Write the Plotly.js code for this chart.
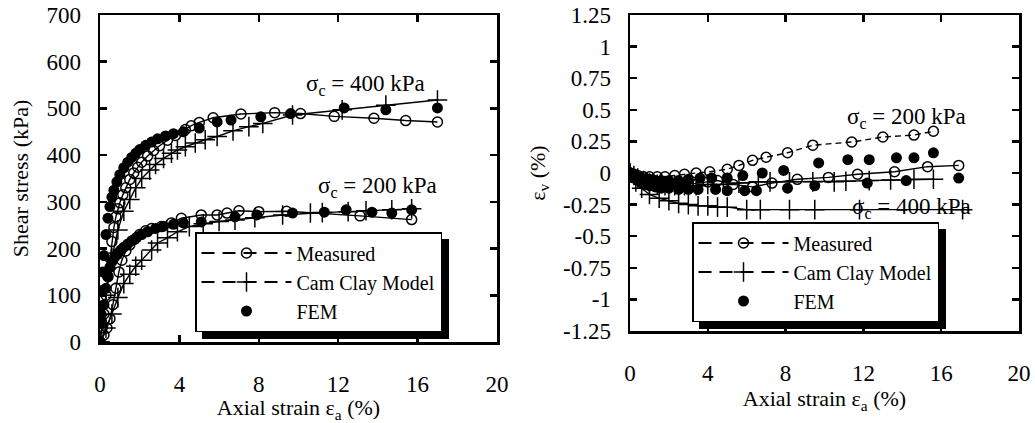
<!DOCTYPE html>
<html>
<head>
<meta charset="utf-8">
<script src="https://cdn.plot.ly/plotly-3.0.1.min.js"></script>
<style>html,body{margin:0;padding:0;background:#fff;}#chart{width:1035px;height:423px;position:relative;}</style>
</head>
<body>
<div id="chart"></div>
<script>
// ---------- Left panel: shear stress vs axial strain ----------
const epsM400 = [0, 0.1, 0.2, 0.3, 0.4, 0.5, 0.6, 0.7, 0.8, 0.9, 1.0, 1.15, 1.3, 1.5, 1.7, 1.9, 2.1, 2.4, 2.7, 3.0, 3.4, 3.8, 4.3, 4.6, 5.0, 5.7, 7.1, 8.8, 10.1, 11.8, 13.8, 15.4, 17.0];
const tauM400 = [0, 30, 60, 100, 140, 180, 215, 245, 268, 285, 298, 315, 330, 348, 362, 374, 385, 398, 410, 420, 432, 442, 455, 463, 470, 480, 488, 491, 489, 483, 479, 474, 471];
const epsC400 = [0, 0.3, 0.6, 0.9, 1.2, 1.5, 1.8, 2.1, 2.5, 2.8, 3.2, 3.6, 3.9, 4.3, 4.8, 5.3, 5.9, 6.7, 7.5, 8.2, 9.7, 12.2, 14.4, 17.0];
const tauC400 = [0, 100, 180, 240, 280, 305, 330, 350, 368, 380, 393, 404, 411, 418, 426, 433, 440, 452, 461, 468, 486, 497, 507, 518];
const epsF400 = [0, 0.05, 0.1, 0.15, 0.2, 0.3, 0.4, 0.5, 0.6, 0.7, 0.85, 1.0, 1.2, 1.4, 1.6, 1.8, 2.0, 2.3, 2.6, 2.9, 3.3, 3.7, 4.2, 5.0, 5.9, 6.6, 8.1, 9.6, 12.3, 14.4, 17.0];
const tauF400 = [0, 60, 110, 150, 185, 230, 265, 290, 310, 325, 343, 358, 373, 385, 395, 404, 412, 421, 428, 435, 441, 446, 450, 458, 471, 475, 482, 489, 501, 497, 501];

const epsM200 = [0, 0.2, 0.35, 0.5, 0.65, 0.8, 0.95, 1.1, 1.3, 1.5, 1.75, 2.0, 2.3, 2.6, 3.1, 3.6, 4.1, 5.1, 5.9, 6.4, 7.0, 8.0, 9.4, 13.1, 15.7];
const tauM200 = [0, 15, 30, 50, 80, 115, 150, 175, 195, 208, 220, 230, 238, 243, 247, 255, 265, 272, 272, 276, 281, 279, 280, 270, 262];
const epsC200 = [0, 0.3, 0.6, 0.9, 1.2, 1.5, 1.8, 2.1, 2.6, 2.9, 3.4, 3.9, 4.5, 5.2, 6.0, 6.8, 7.8, 9.2, 10.6, 11.2, 12.5, 13.4, 14.7, 15.7];
const tauC200 = [0, 30, 60, 95, 125, 145, 162, 175, 197, 212, 223, 236, 247, 253, 258, 261, 266, 272, 276, 277, 279, 281, 283, 285];
const epsF200 = [0, 0.1, 0.2, 0.3, 0.4, 0.5, 0.6, 0.75, 0.9, 1.05, 1.2, 1.4, 1.6, 1.85, 2.1, 2.4, 2.8, 3.2, 3.7, 4.2, 5.1, 6.8, 7.9, 9.7, 11.3, 12.4, 13.7, 14.7, 15.7];
const tauF200 = [0, 40, 80, 115, 140, 160, 172, 182, 190, 197, 203, 210, 217, 224, 230, 236, 243, 248, 252, 255, 257, 268, 272, 276, 278, 283, 278, 276, 283];

// ---------- Right panel: volumetric strain vs axial strain ----------
const epsVM200 = [0, 0.2, 0.4, 0.7, 1.0, 1.4, 1.8, 2.3, 2.8, 3.4, 4.1, 5.0, 5.6, 6.3, 7.0, 8.1, 9.4, 11.4, 13.0, 14.6, 15.6];
const vM200 = [0, -0.01, -0.02, -0.03, -0.03, -0.03, -0.03, -0.02, -0.01, 0, 0.01, 0.03, 0.06, 0.1, 0.125, 0.16, 0.22, 0.245, 0.285, 0.3, 0.33];
const epsVM400 = [0, 0.3, 0.6, 1.0, 1.5, 2.0, 2.5, 3.0, 3.5, 4.0, 4.5, 5.3, 6.3, 7.3, 8.6, 10.2, 11.7, 13.6, 15.3, 16.9];
const vM400 = [0, -0.03, -0.05, -0.07, -0.08, -0.09, -0.09, -0.09, -0.08, -0.07, -0.06, -0.09, -0.11, -0.08, -0.05, -0.035, -0.01, 0.01, 0.05, 0.06];
const epsVC200 = [0, 0.2, 0.4, 0.7, 1.0, 1.4, 1.8, 2.3, 2.8, 3.4, 4.0, 4.8, 5.6, 6.6, 7.2, 8.2, 9.4, 10.5, 11.1, 12.3, 13.4, 14.6, 15.6];
const vC200 = [0, -0.02, -0.04, -0.06, -0.08, -0.09, -0.10, -0.10, -0.10, -0.10, -0.09, -0.09, -0.08, -0.07, -0.07, -0.07, -0.07, -0.07, -0.065, -0.06, -0.055, -0.05, -0.05];
const epsVC400 = [0, 0.3, 0.6, 1.0, 1.5, 2.0, 2.5, 3.0, 3.5, 4.0, 4.5, 5.0, 6.0, 6.7, 8.2, 9.5, 11.8, 17.1];
const vC400 = [0, -0.07, -0.12, -0.17, -0.2, -0.22, -0.24, -0.25, -0.26, -0.26, -0.27, -0.27, -0.29, -0.29, -0.29, -0.29, -0.29, -0.29];
const epsVF200 = [0, 0.1, 0.2, 0.4, 0.6, 0.8, 1.0, 1.3, 1.6, 2.0, 2.5, 3.0, 3.6, 4.2, 5.0, 5.8, 6.8, 7.9, 9.7, 11.2, 12.3, 13.7, 14.6, 15.6];
const vF200 = [0, -0.01, -0.02, -0.03, -0.04, -0.05, -0.05, -0.06, -0.06, -0.06, -0.06, -0.05, -0.04, -0.04, -0.04, -0.02, 0.0, 0.02, 0.08, 0.105, 0.105, 0.12, 0.12, 0.16];
const epsVF400 = [0, 0.1, 0.2, 0.4, 0.6, 0.8, 1.0, 1.3, 1.6, 2.0, 2.5, 3.0, 3.5, 4.4, 5.0, 5.9, 6.5, 8.1, 9.5, 12.2, 14.2, 16.9];
const vF400 = [0, -0.02, -0.04, -0.06, -0.08, -0.09, -0.10, -0.11, -0.12, -0.12, -0.13, -0.13, -0.13, -0.13, -0.14, -0.14, -0.14, -0.12, -0.10, -0.08, -0.06, -0.04];

// ---------- Ticks, names, labels ----------
const xTicks = [0, 4, 8, 12, 16, 20];
const yTicksLeft = [0, 100, 200, 300, 400, 500, 600, 700];
const yTicksRight = [-1.25, -1, -0.75, -0.5, -0.25, 0, 0.25, 0.5, 0.75, 1, 1.25];
const yTickTextRight = ['-1.25', '-1', '-0.75', '-0.5', '-0.25', '0', '0.25', '0.5', '0.75', '1', '1.25'];
const seriesNames = ['Measured', 'Cam Clay Model', 'FEM'];
const label400 = 'σ<sub>c</sub> = 400 kPa';
const label200 = 'σ<sub>c</sub> = 200 kPa';
const xTitle = 'Axial strain ε<sub>a</sub> (%)';
const yTitleLeft = 'Shear stress (kPa)';
const yTitleRight = 'ε<sub>v</sub> (%)';

const FONT = "'Liberation Serif', 'DejaVu Serif', serif";
const openC = {symbol: 'circle-open', size: 10, color: '#000', line: {width: 1.5, color: '#000'}};
const crossM = {symbol: 'cross-thin-open', size: 14, color: '#000', line: {width: 1.5, color: '#000'}};
const fillC = {symbol: 'circle', size: 11, color: '#000'};
const solid = {color: '#000', width: 1.4};
const dashed = {color: '#000', width: 1.4, dash: '6px,4px'};

function lm(x, y, xa, ya, marker, line) {
  const t = {x: x, y: y, xaxis: xa, yaxis: ya, type: 'scatter', mode: line ? 'lines+markers' : 'markers',
          marker: marker, showlegend: false, hoverinfo: 'skip', cliponaxis: true};
  if (line) t.line = line;
  return t;
}
function legendItem(name, legend, marker, withLine) {
  return {x: [null], y: [null], type: 'scatter', name: name, legend: legend,
          mode: withLine ? 'lines+markers' : 'markers', marker: marker,
          line: {color: '#000', width: 2, dash: '13px,8px'}, xaxis: legend === 'legend' ? 'x' : 'x2',
          yaxis: legend === 'legend' ? 'y' : 'y2', showlegend: true};
}

const traces = [
  lm(epsM400, tauM400, 'x', 'y', openC, solid),
  lm(epsC400, tauC400, 'x', 'y', crossM, solid),
  lm(epsF400, tauF400, 'x', 'y', fillC, null),
  lm(epsM200, tauM200, 'x', 'y', openC, solid),
  lm(epsC200, tauC200, 'x', 'y', crossM, solid),
  lm(epsF200, tauF200, 'x', 'y', fillC, null),
  lm(epsVM200, vM200, 'x2', 'y2', openC, dashed),
  lm(epsVM400, vM400, 'x2', 'y2', openC, solid),
  lm(epsVC200, vC200, 'x2', 'y2', crossM, solid),
  lm(epsVC400, vC400, 'x2', 'y2', crossM, solid),
  lm(epsVF200, vF200, 'x2', 'y2', fillC, null),
  lm(epsVF400, vF400, 'x2', 'y2', fillC, null),
  legendItem(seriesNames[0], 'legend', openC, true),
  legendItem(seriesNames[1], 'legend', crossM, true),
  legendItem(seriesNames[2], 'legend', fillC, false),
  legendItem(seriesNames[0], 'legend2', openC, true),
  legendItem(seriesNames[1], 'legend2', crossM, true),
  legendItem(seriesNames[2], 'legend2', fillC, false)
];

const axisCommon = {
  showline: true, linewidth: 2.5, linecolor: '#000', mirror: 'ticks',
  ticks: 'inside', ticklen: 7, tickwidth: 2.5, tickcolor: '#000',
  showgrid: false, zeroline: false, tickfont: {family: FONT, size: 23, color: '#000'}
};

const legendCommon = {
  bgcolor: '#fff', bordercolor: '#000', borderwidth: 1.5,
  font: {family: FONT, size: 20, color: '#000'}, itemwidth: 90,
  xanchor: 'left', yanchor: 'top', tracegroupgap: 0
};
const titleFont = {family: FONT, size: 22, color: '#000'};
const annFont = {family: FONT, size: 23, color: '#000'};
const W = 1035, H = 423;
const legendPos = {legend: [195, 232], legend2: [692, 222]};

const layout = {
  width: W, height: H,
  margin: {l: 0, r: 0, t: 0, b: 0},
  paper_bgcolor: '#fff', plot_bgcolor: '#fff',
  font: {family: FONT, size: 22, color: '#000'},
  xaxis: Object.assign({}, axisCommon, {domain: [100/W, 497/W], anchor: 'y', range: [0, 20],
    tickvals: xTicks, ticktext: xTicks.map(String), ticklabelstandoff: 20,
    title: {text: xTitle, font: titleFont, standoff: 4}}),
  yaxis: Object.assign({}, axisCommon, {domain: [(H-342)/H, (H-15)/H], anchor: 'x', range: [0, 700],
    tickvals: yTicksLeft, ticktext: yTicksLeft.map(String), ticklabelstandoff: 12,
    title: {text: yTitleLeft, font: titleFont, standoff: 12}}),
  xaxis2: Object.assign({}, axisCommon, {domain: [630/W, 1019/W], anchor: 'y2', range: [0, 20],
    tickvals: xTicks, ticktext: xTicks.map(String), ticklabelstandoff: 20,
    title: {text: xTitle, font: titleFont, standoff: 4}}),
  yaxis2: Object.assign({}, axisCommon, {domain: [(H-331)/H, (H-15)/H], anchor: 'x2', range: [-1.25, 1.25],
    tickvals: yTicksRight, ticktext: yTickTextRight, ticklabelstandoff: 12,
    title: {text: yTitleRight, font: titleFont, standoff: 12}}),
  legend: Object.assign({}, legendCommon, {x: legendPos.legend[0]/W, y: (H-legendPos.legend[1])/H}),
  legend2: Object.assign({}, legendCommon, {x: legendPos.legend2[0]/W, y: (H-legendPos.legend2[1])/H}),
  shapes: [],
  annotations: [
    {xref: 'x', yref: 'y', x: 13.4, y: 550, text: label400, showarrow: false, font: annFont},
    {xref: 'x', yref: 'y', x: 14.0, y: 332, text: label200, showarrow: false, font: annFont},
    {xref: 'x2', yref: 'y2', x: 14.2, y: 0.435, text: label200, showarrow: false, font: annFont},
    {xref: 'x2', yref: 'y2', x: 14.45, y: -0.277, text: label400, showarrow: false, font: annFont}
  ]
};

const gd = document.getElementById('chart');
function shadowShapes() {
  const off = 7, fl = gd._fullLayout || {};
  const shapes = [];
  ['legend', 'legend2'].forEach(function (id) {
    const L = fl[id];
    let w = L && L._width, h = L && L._height;
    if (!(w > 0 && h > 0)) { w = 252; h = 100; }
    const left = legendPos[id][0] + off, top = legendPos[id][1] + off;
    shapes.push({type: 'rect', xref: 'paper', yref: 'paper',
                 x0: left / W, x1: (left + w) / W, y0: 1 - (top + h) / H, y1: 1 - top / H,
                 fillcolor: '#000', line: {width: 0}, layer: 'above'});
  });
  return shapes;
}
Plotly.newPlot(gd, traces, layout, {displayModeBar: false, staticPlot: true});
Plotly.relayout(gd, {shapes: shadowShapes()});
</script>
</body>
</html>
